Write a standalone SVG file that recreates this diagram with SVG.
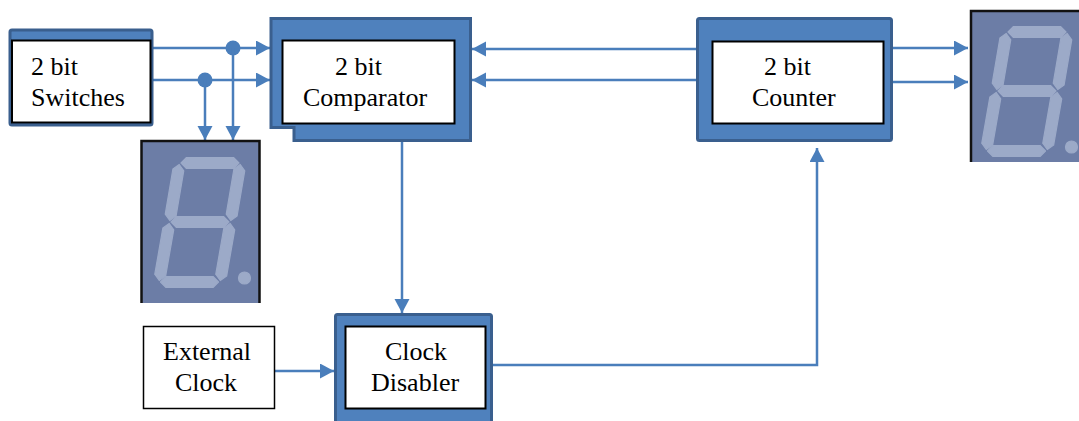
<svg xmlns="http://www.w3.org/2000/svg" width="1079" height="421" viewBox="0 0 1079 421">
  <style>
    .blk { fill: #4F81BD; stroke: #3A5F8E; stroke-width: 3; }
    .inner { fill: #FFFFFF; stroke: #000000; stroke-width: 2; }
    .plain { fill: #FFFFFF; stroke: #000000; stroke-width: 1.5; }
    .lbl { font-family: "Liberation Serif", "Times New Roman", serif; font-size: 26px; fill: #000000; }
    .wire { fill: none; stroke: #4A7EBB; stroke-width: 2.5; }
    .seg { fill: #9CAAC8; stroke: #9CAAC8; stroke-width: 1.2; stroke-linejoin: round; }
    .disp { fill: #6C7DA6; }
  </style>
  <defs>
    <marker id="arr" markerUnits="userSpaceOnUse" markerWidth="16" markerHeight="16" refX="14" refY="7.5" orient="auto">
      <path d="M0,0 L14,7.5 L0,15 Z" fill="#4A7EBB"/>
    </marker>
    <g id="digit">
      <polygon class="seg" points="40,23 45.5,17.5 92.5,17.5 98,23 92.5,28.5 45.5,28.5"/>
      <polygon class="seg" points="30,82 35.5,76.5 82.5,76.5 88,82 82.5,87.5 35.5,87.5"/>
      <polygon class="seg" points="19.5,142 25,136.5 72,136.5 77.5,142 72,147.5 25,147.5"/>
      <polygon class="seg" points="38.25,24.48 42.75,30.82 35.09,76.02 28.75,80.52 24.25,74.18 31.91,28.98"/>
      <polygon class="seg" points="99.25,24.48 103.75,30.82 96.09,76.02 89.75,80.52 85.25,74.18 92.91,28.98"/>
      <polygon class="seg" points="28.24,83.48 32.72,89.85 24.63,136.05 18.26,140.52 13.79,134.15 21.88,87.95"/>
      <polygon class="seg" points="89.24,83.48 93.72,89.85 85.63,136.05 79.26,140.52 74.79,134.15 82.88,87.95"/>
      <circle class="seg" cx="103.5" cy="138" r="6"/>
    </g>
    <clipPath id="clipR">
      <rect x="970" y="10" width="109" height="152"/>
    </clipPath>
  </defs>

  <g id="connectors">
    <line class="wire" x1="153" y1="48" x2="270" y2="48" marker-end="url(#arr)"/>
    <line class="wire" x1="153" y1="80" x2="270" y2="80" marker-end="url(#arr)"/>
    <circle cx="233" cy="48" r="7.5" fill="#4A7EBB"/>
    <circle cx="205" cy="80" r="7.5" fill="#4A7EBB"/>
    <line class="wire" x1="233" y1="48" x2="233" y2="140" marker-end="url(#arr)"/>
    <line class="wire" x1="205" y1="80" x2="205" y2="140" marker-end="url(#arr)"/>
    <line class="wire" x1="696" y1="49" x2="472" y2="49" marker-end="url(#arr)"/>
    <line class="wire" x1="696" y1="80" x2="472" y2="80" marker-end="url(#arr)"/>
    <line class="wire" x1="893" y1="48" x2="968" y2="48" marker-end="url(#arr)"/>
    <line class="wire" x1="893" y1="82" x2="968" y2="82" marker-end="url(#arr)"/>
    <line class="wire" x1="402" y1="142" x2="402" y2="313" marker-end="url(#arr)"/>
    <line class="wire" x1="275" y1="371" x2="334" y2="371" marker-end="url(#arr)"/>
    <polyline class="wire" points="493,365 817,365 817,148" marker-end="url(#arr)"/>
  </g>

  <g id="switches">
    <rect class="blk" x="10" y="30" width="142" height="95" rx="2" stroke-width="2"/>
    <rect class="inner" x="12" y="40.5" width="138.5" height="82"/>
    <text class="lbl" x="31" y="75">2 bit</text>
    <text class="lbl" x="31" y="106">Switches</text>
  </g>

  <g id="comparator">
    <path class="blk" d="M271,18.5 H470.5 V140.5 H294 V127.5 H271 Z"/>
    <rect class="inner" x="282.5" y="40.5" width="172" height="83"/>
    <text class="lbl" x="335" y="75">2 bit</text>
    <text class="lbl" x="303" y="106">Comparator</text>
  </g>

  <g id="counter">
    <rect class="blk" x="697.5" y="18.5" width="194" height="122" rx="2"/>
    <rect class="inner" x="712.5" y="41.5" width="171" height="82"/>
    <text class="lbl" x="764" y="75">2 bit</text>
    <text class="lbl" x="752" y="106">Counter</text>
  </g>

  <g id="display-left">
    <rect class="disp" x="141" y="140" width="119" height="163"/>
    <use href="#digit" transform="translate(141,140)"/>
    <path d="M141.5,303 V141 H259.5 V303" fill="none" stroke="#111111" stroke-width="2.5"/>
  </g>

  <g id="display-right">
    <g clip-path="url(#clipR)">
      <rect class="disp" x="970" y="10" width="109" height="152"/>
      <use href="#digit" transform="translate(968,9)"/>
    </g>
    <path d="M971,162 V11 H1079" fill="none" stroke="#111111" stroke-width="2.5"/>
  </g>

  <g id="external-clock">
    <rect class="plain" x="143.5" y="326.5" width="131" height="82"/>
    <text class="lbl" x="163" y="360">External</text>
    <text class="lbl" x="175" y="391">Clock</text>
  </g>

  <g id="clock-disabler">
    <rect class="blk" x="335.5" y="314.5" width="156" height="112" rx="2"/>
    <rect class="inner" x="345.5" y="326.5" width="140" height="82"/>
    <text class="lbl" x="385" y="360">Clock</text>
    <text class="lbl" x="371" y="391">Disabler</text>
  </g>
</svg>
